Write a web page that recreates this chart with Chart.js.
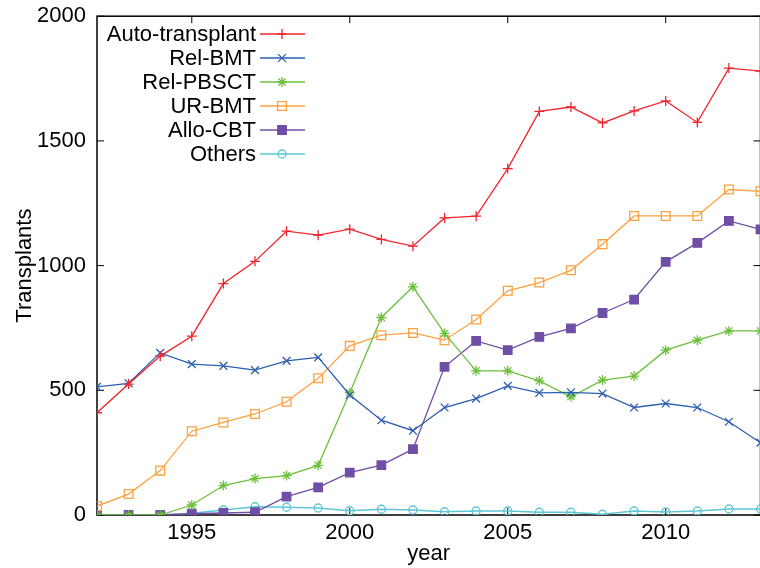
<!DOCTYPE html>
<html>
<head>
<meta charset="utf-8">
<script src="https://cdn.jsdelivr.net/npm/chart.js@4.4.0/dist/chart.umd.min.js"></script>
<style>
html, body { margin: 0; padding: 0; background: #fff; overflow: hidden; }
#wrap { width: 768px; height: 568px; }
</style>
</head>
<body>
<div id="wrap"><canvas id="transplant-chart" width="768" height="568"></canvas></div>
<script>
var years    = [1992, 1993, 1994, 1995, 1996, 1997, 1998, 1999, 2000, 2001, 2002,
                2003, 2004, 2005, 2006, 2007, 2008, 2009, 2010, 2011, 2012, 2013];
var auto     = [410, 525, 637, 717, 928, 1017, 1138, 1122, 1146, 1105, 1078,
                1191, 1198, 1389, 1618, 1636, 1572, 1620, 1660, 1574, 1792, 1780];
var relBmt   = [514, 528, 650, 605, 598, 581, 618, 632, 481, 380, 338,
                431, 467, 518, 490, 492, 487, 431, 447, 431, 374, 290];
var relPbsct = [0, 0, 0, 40, 118, 146, 158, 199, 490, 792, 915,
                728, 578, 578, 538, 474, 541, 557, 661, 701, 738, 738];
var urBmt    = [36, 84, 178, 336, 371, 405, 454, 548, 678, 721, 730,
                701, 784, 899, 932, 981, 1086, 1199, 1199, 1199, 1305, 1298];
var alloCbt  = [0, 0, 0, 5, 8, 11, 74, 111, 170, 200, 264,
                594, 698, 661, 714, 748, 810, 864, 1015, 1091, 1179, 1145];
var others   = [2, 0, 0, 7, 20, 33, 31, 28, 17, 23, 20,
                13, 16, 16, 11, 11, 3, 16, 12, 16, 24, 24];
var xTicks = [1995, 2000, 2005, 2010];
var yTicks = [0, 500, 1000, 1500, 2000];

var font = { family: '"Liberation Sans", Arial, sans-serif', size: 22 };

function series(label, values, color, style, radius, fill) {
    return {
        label: label,
        data: years.map(function (y, i) { return { x: y, y: values[i] }; }),
        borderColor: color,
        backgroundColor: color,
        borderWidth: 1.3,
        pointStyle: style,
        pointRadius: radius,
        pointHoverRadius: radius,
        pointBorderColor: color,
        pointBackgroundColor: fill ? color : 'rgba(0,0,0,0)',
        pointBorderWidth: 1.3,
        tension: 0
    };
}

// frame with inward ticks on all four sides
var framePlugin = {
    id: 'frame',
    beforeDatasetsDraw: function (chart) {
        var a = chart.chartArea, ctx = chart.ctx, len = 7;
        ctx.save();
        ctx.strokeStyle = '#000';
        ctx.lineWidth = 1;
        ctx.beginPath();
        xTicks.forEach(function (v) {
            var px = chart.scales.x.getPixelForValue(v);
            ctx.moveTo(px, a.bottom); ctx.lineTo(px, a.bottom - len);
            ctx.moveTo(px, a.top); ctx.lineTo(px, a.top + len);
        });
        yTicks.forEach(function (v) {
            var py = chart.scales.y.getPixelForValue(v);
            ctx.moveTo(a.left, py); ctx.lineTo(a.left + len, py);
            ctx.moveTo(a.right, py); ctx.lineTo(a.right - len, py);
        });
        ctx.stroke();
        ctx.lineWidth = 1.5;
        ctx.strokeRect(a.left, a.top, a.right - a.left, a.bottom - a.top);
        ctx.restore();
    }
};

// gnuplot-like key: text right aligned, sample on the right
var keyPlugin = {
    id: 'key',
    afterDatasetsDraw: function (chart) {
        var ctx = chart.ctx;
        ctx.save();
        ctx.font = font.size + 'px ' + font.family;
        ctx.textAlign = 'right';
        ctx.textBaseline = 'middle';
        chart.data.datasets.forEach(function (ds, i) {
            var y = 34 + i * 24;
            ctx.fillStyle = '#000';
            ctx.fillText(ds.label, 256, y + 1);
            ctx.strokeStyle = ds.borderColor;
            ctx.lineWidth = ds.borderWidth;
            ctx.beginPath();
            ctx.moveTo(260, y); ctx.lineTo(305, y);
            ctx.stroke();
            ctx.fillStyle = ds.pointBackgroundColor;
            ctx.lineWidth = ds.pointBorderWidth;
            Chart.helpers.drawPoint(ctx, {
                pointStyle: ds.pointStyle, radius: ds.pointRadius,
                borderWidth: ds.pointBorderWidth, rotation: 0
            }, 282, y);
        });
        ctx.restore();
    }
};

var ctx = document.getElementById('transplant-chart').getContext('2d');
var myChart = new Chart(ctx, {
    type: 'line',
    data: {
        datasets: [
            series('Auto-transplant', auto, '#f0262c', 'cross', 5, false),
            series('Rel-BMT', relBmt, '#2d5fb0', 'crossRot', 5.5, false),
            series('Rel-PBSCT', relPbsct, '#6cc03c', 'star', 5, false),
            series('UR-BMT', urBmt, '#ffa040', 'rect', 6.2, false),
            series('Allo-CBT', alloCbt, '#6f4fa6', 'rect', 6, true),
            series('Others', others, '#5ec6d6', 'circle', 4, false)
        ]
    },
    options: {
        responsive: false,
        animation: false,
        layout: { padding: { top: 16, right: 2, left: 0, bottom: 0 } },
        plugins: { legend: { display: false }, tooltip: { enabled: false } },
        scales: {
            x: {
                type: 'linear',
                min: 1992,
                max: 2013,
                grid: { display: false },
                border: { display: false },
                afterBuildTicks: function (scale) {
                    scale.ticks = xTicks.map(function (v) { return { value: v }; });
                },
                afterFit: function (scale) { scale.height = 53; },
                ticks: { color: '#000', font: font, padding: -3, maxRotation: 0,
                         callback: function (v) { return String(v); } },
                title: { display: true, text: 'year', color: '#000', font: font,
                         padding: { top: 0, bottom: 1 } }
            },
            y: {
                min: 0,
                max: 2000,
                grid: { display: false },
                border: { display: false },
                afterBuildTicks: function (scale) {
                    scale.ticks = yTicks.map(function (v) { return { value: v }; });
                },
                afterFit: function (scale) { scale.width = 97; },
                ticks: { color: '#000', font: font, padding: 3,
                         callback: function (v) { return String(v); } },
                title: { display: true, text: 'Transplants', color: '#000', font: font,
                         padding: { top: 12, bottom: 0 } }
            }
        }
    },
    plugins: [framePlugin, keyPlugin]
});
</script>
</body>
</html>
